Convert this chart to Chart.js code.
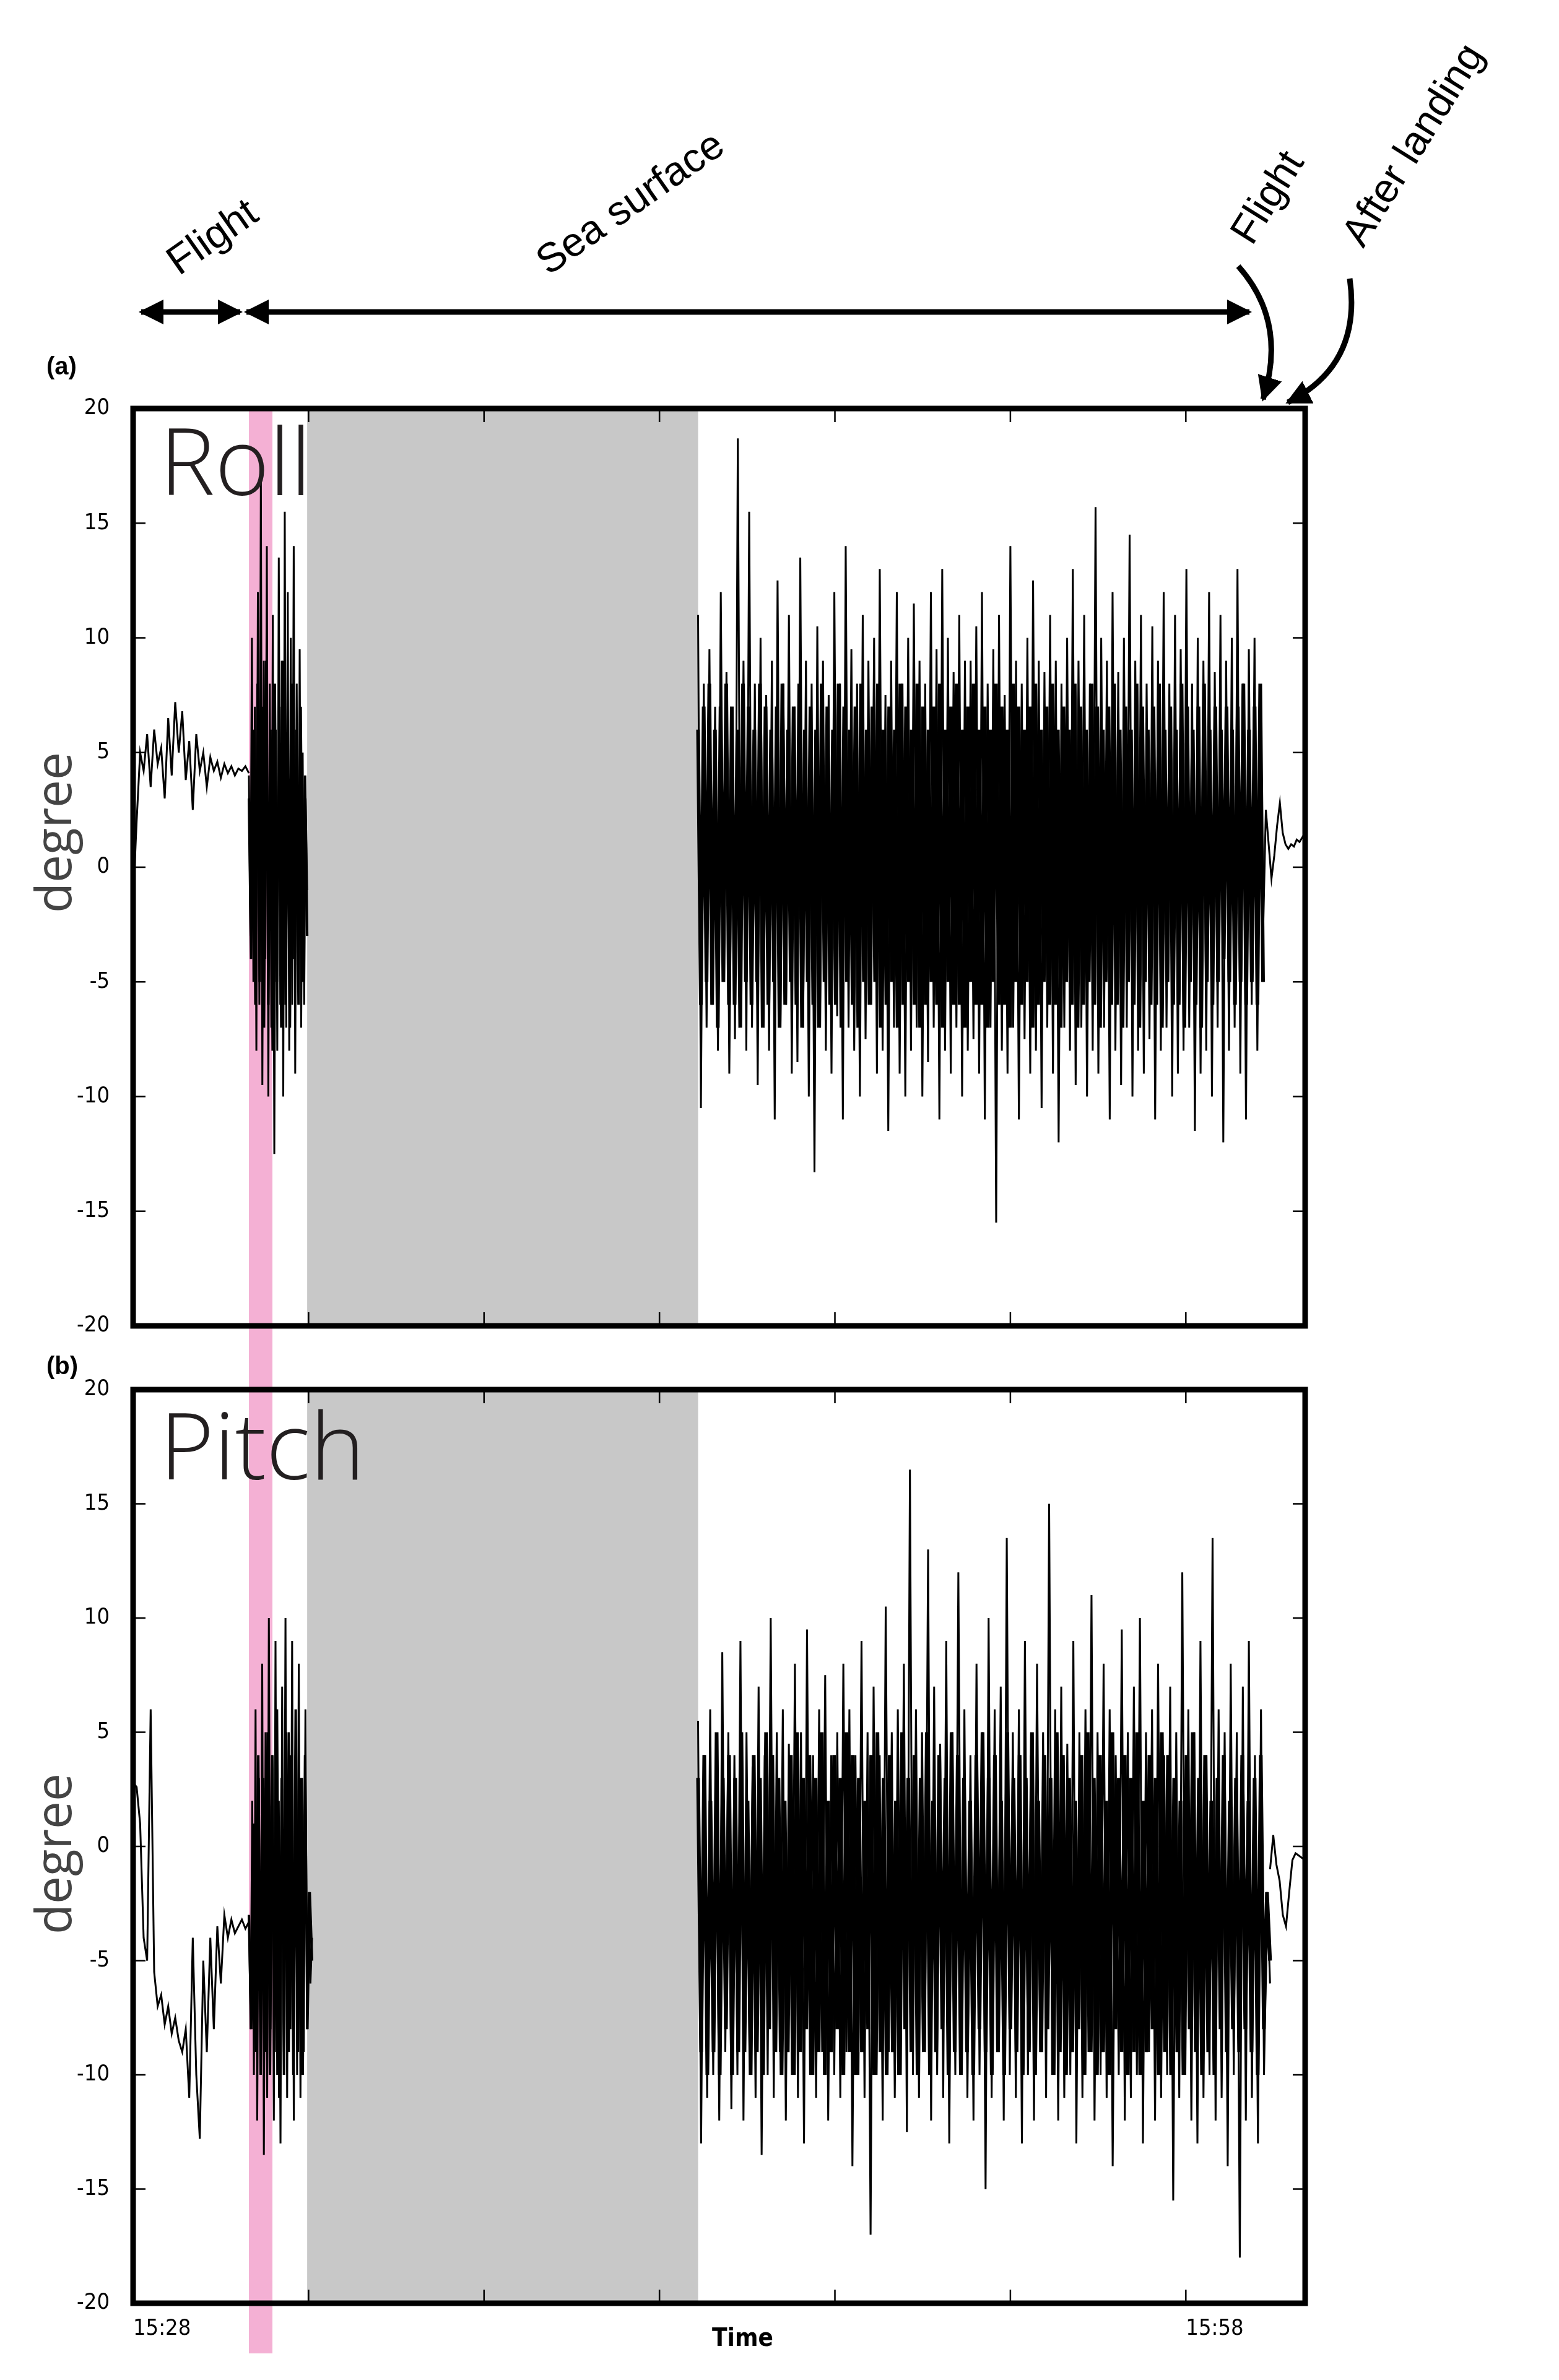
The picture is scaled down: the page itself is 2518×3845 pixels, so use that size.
<!DOCTYPE html>
<html><head><meta charset="utf-8">
<script src="https://cdn.jsdelivr.net/npm/chart.js@4.4.1/dist/chart.umd.min.js"></script>
<style>
html,body{margin:0;padding:0;background:#fff;}
#wrap{position:relative;width:2518px;height:3845px;overflow:hidden;}
canvas{position:absolute;left:0;}
svg{position:absolute;left:0;top:0;}
</style></head><body>
<div id="wrap">
<canvas id="c1" width="2518" height="1642" style="top:560px;width:2518px;height:1642px"></canvas>
<canvas id="c2" width="2518" height="1655" style="top:2190px;width:2518px;height:1655px"></canvas>
<svg width="2518" height="3845" viewBox="0 0 2518 3845">
<defs>
<marker id="ah" viewBox="0 0 10 10" refX="9" refY="5" markerWidth="4.5" markerHeight="4.5" orient="auto-start-reverse" markerUnits="strokeWidth"><path d="M0,0 L10,5 L0,10 z" fill="#000"/></marker>
</defs>
<line x1="228" y1="504" x2="388" y2="504" stroke="#000" stroke-width="9" marker-start="url(#ah)" marker-end="url(#ah)"/>
<line x1="398" y1="504" x2="2018" y2="504" stroke="#000" stroke-width="9" marker-start="url(#ah)" marker-end="url(#ah)"/>
<path d="M2000,430 Q2080,520 2040,645" fill="none" stroke="#000" stroke-width="9" marker-end="url(#ah)"/>
<path d="M2180,450 Q2200,590 2080,650" fill="none" stroke="#000" stroke-width="9" marker-end="url(#ah)"/>
<g font-family="Liberation Sans, Arial, sans-serif" font-size="66" fill="#000">
<text x="355" y="400" text-anchor="middle" transform="rotate(-35 355 400)">Flight</text>
<text x="1030" y="345" text-anchor="middle" transform="rotate(-35 1030 345)">Sea surface</text>
<text x="2065" y="330" text-anchor="middle" transform="rotate(-58 2065 330)">Flight</text>
<text x="2300" y="245" text-anchor="middle" transform="rotate(-58 2300 245)">After landing</text>
</g>
<g font-family="Liberation Sans, Arial, sans-serif" font-size="40" font-weight="bold">
<text x="75" y="605">(a)</text>
<text x="75" y="2220">(b)</text>
</g>
<g font-family="Open Sans, Noto Sans, sans-serif" font-size="80" fill="#444">
<text x="115" y="1345" text-anchor="middle" transform="rotate(-90 115 1345)">degree</text>
<text x="115" y="2995" text-anchor="middle" transform="rotate(-90 115 2995)">degree</text>
</g>
<g font-family="Open Sans, Noto Sans, sans-serif" font-size="150" font-weight="300" fill="#231f20">
<text x="258" y="800">Roll</text>
<text x="258" y="2390">Pitch</text>
</g>
<text x="1150" y="3790" font-family="Liberation Sans Narrow, DejaVu Sans Condensed, sans-serif" font-size="40" font-weight="bold">Time</text>
</svg>
</div>
<script>
// time in minutes after 15:28
const xTickLabels = {0:'15:28', 30:'15:58'};
const yTicks = [-20,-15,-10,-5,0,5,10,15,20];
const grayBand = [4.96, 16.1];
const pinkBand = [3.3, 3.97];

// Roll segments
const rollFlightT = [0, 3.3];
const rollFlight = [-1.5,2,5,4.2,5.8,3.5,6,4.5,5.2,3,6.5,4,7.2,5,6.8,3.8,5.5,2.5,5.8,4.2,5,3.5,4.8,4.2,4.6,3.9,4.5,4.1,4.4,4.0,4.3,4.2,4.4,4.1];
const rollLandT = [3.3, 4.96];
const rollLand = [4,-3,10,-5,7,-8,12,-6,17,-9.5,9,-4,14,-10,8,-7,11,-12.5,6,-8,13.5,-6,9,-10,15.5,-7,12,-8,10,-6,14,-9,8,-5,9.5,-7,5,-6,3,-1];
const rollLandCore = [3,-4,6,-6,8,-5,7,-7,9,-6,6,-8,8,-5,7,-7,9,-6,5,-7,8,-4,6,-6,7,-5,4,-3];
const rollSeaT = [16.1, 32.2];
const rollSea = [11,-10.5,8,-7,9.5,-6,7,-8,12,-5,8.5,-9,6,-7.5,18.7,-6,9,-8,15.5,-7,8,-9.5,10,-6.5,7.5,-8,9,-11,12.5,-7,8,-6,11,-9,7,-8.5,13.5,-7,9,-10,
8,-13.3,10.5,-7,9,-8,7.5,-9,12,-6.5,8,-11,14,-7,9.5,-8,8,-10,11,-7.5,9,-6,10,-9,13,-8,7.5,-11.5,9,-7,12,-9,8,-10,10,-8,11.5,-7,9,-10,
8,-8.5,12,-7,9.5,-11,13,-8,10,-9,8.5,-7,11,-10,9,-8,9,-7.5,10.5,-9,12,-11,8,-7,9.5,-15.5,11,-8,7.5,-9,14,-7,9,-11,8,-7.5,10,-9,12.5,-8,
9,-10.5,8.5,-7,11,-9,9,-12,8,-7,10,-8,13,-9.5,9,-7,11,-10,8,-8,15.7,-9,10,-7,9,-11,12,-8,8.5,-9.5,10,-7,14.5,-10,9,-8,11,-9,8,-7.5,
10.5,-11,9,-8,12,-7,8,-10,11,-9,9.5,-8,13,-7,8,-11.5,10,-9,9,-8,12,-10,8.5,-7,11,-12,9,-8,10,-7,13,-9,8,-11,9.5,-6,10,-8,7,-5];
const rollSeaCore = [6,-6,7,-5,8,-6,6,-7,7,-5,8,-6,7,-6,6,-7,8,-5,7,-6,6,-5,8,-7,7,-6,6,-5,7,-7,8,-6,6,-5,7,-6,8,-7,6,-5,
7,-6,6,-7,8,-5,7,-6,6,-6,8,-7,7,-5,6,-6,7,-7,8,-5,6,-6,7,-5,8,-7,6,-6,7,-5,6,-7,8,-6,7,-5,6,-6,8,-7,7,-6,6,-5,7,-6,8,-7,
6,-5,7,-6,8,-6,6,-7,7,-5,8,-6,6,-6,7,-7,6,-5,8,-6,7,-6,6,-7,8,-5,7,-6,6,-5,7,-7,8,-6,6,-5,7,-6,8,-6,6,-7,7,-5,6,-6,8,-7,7,-6,
6,-5,8,-6,7,-7,6,-5,7,-6,8,-6,6,-7,7,-5,6,-6,8,-7,7,-5,6,-6,7,-6,8,-7,6,-5,7,-6,6,-6,8,-7,7,-5,6,-6,7,-7,8,-5,6,-6,7,-5,6,-4,7,-5,6,-6,7,-5,8,-6,6,-5,7,-6,8,-5];
const rollAfterT = [32.2, 33.4];
const rollAfter = [-3,2.5,1,-0.5,0.5,1.8,2.8,1.5,1,0.8,1,0.9,1.2,1.1,1.3,1.5];

// Pitch segments
const pitchFlightT = [0, 3.3];
const pitchFlight = [2.8,2.6,1,-4,-5,6,-5.5,-7,-6.5,-7.8,-7,-8.2,-7.5,-8.5,-9,-8,-11,-4,-10,-12.8,-5,-9,-4,-8,-3.5,-6,-3,-4,-3.2,-3.8,-3.5,-3.2,-3.6,-3.3];
const pitchLandT = [3.3, 5.1];
const pitchLand = [-3,-8,2,-10,6,-12,3,-9,8,-13.5,5,-11,10,-8,4,-12,9,-10,2,-13,7,-9,10,-11,5,-8,9,-12,4,-10,8,-11,3,-9,6,-8,-2,-6,-4];
const pitchLandCore = [-3,-8,1,-9,4,-10,3,-9,5,-10,4,-9,6,-11,3,-10,5,-9,4,-10,6,-9,3,-10,4,-8,-2,-5];
const pitchSeaT = [16.1, 32.4];
const pitchSea = [5.5,-13,4,-11,6,-10,3,-12,8.5,-9,5,-11.5,4,-10,9,-12,5,-9,3.5,-11,7,-13.5,4,-10,10,-11,5,-9,6,-12,4.5,-10,8,-11,5,-13,9.5,-10,4,-11,
6,-9,7.5,-12,4,-10,5,-11,8,-9,6,-14,4,-10,9,-11,5,-17,7,-10,4,-12,10.5,-9,5,-11,6,-10,8,-12.5,16.5,-10,6,-11,5,-9,13,-12,7,-10,
4.5,-11,9,-13,5,-10,12,-9,6,-11,4,-12,8,-10,5,-15,10,-11,6,-9,7,-12,13.5,-10,5,-11,6,-13,9,-10,4,-12,8,-9,5,-11,15,-10,6,-12,
7,-11,4.5,-10,9,-13,5,-11,6,-9,11,-12,5,-10,8,-11,6,-14,4,-10,9.5,-12,5,-11,7,-10,10,-13,5,-9,6,-12,8,-11,4,-10,7,-15.5,5,-11,
12,-10,6,-12,5,-13,9,-11,4,-10,13.5,-12,6,-11,5,-14,8,-10,5,-18,7,-12,9,-11,4,-13,6,-10,-2,-6];
const pitchSeaCore = [3,-9,4,-10,2,-9,5,-10,3,-8,4,-10,3,-9,5,-9,2,-10,4,-9,3,-10,5,-8,4,-9,3,-10,2,-9,4,-10,5,-9,3,-8,4,-10,
3,-9,5,-10,2,-9,4,-8,3,-10,5,-9,4,-10,3,-9,2,-8,4,-10,5,-9,3,-10,4,-9,2,-10,5,-8,3,-9,4,-10,3,-9,5,-10,2,-9,4,-8,3,-10,5,-9,
4,-10,3,-9,2,-10,4,-8,5,-9,3,-10,4,-9,2,-10,5,-8,3,-9,4,-10,3,-9,5,-10,2,-9,4,-8,3,-10,5,-9,4,-10,3,-9,2,-8,4,-10,5,-9,3,-10,
4,-9,2,-10,5,-8,3,-9,4,-10,3,-9,5,-10,2,-9,4,-8,3,-10,5,-9,4,-10,3,-9,2,-10,4,-8,5,-9,3,-10,4,-9,2,-10,3,-8,4,-9,2,-8,3,-9,4,-8,2,-9,3,-10,4,-8,-2,-5];
const pitchAfterT = [32.4, 33.4];
const pitchAfter = [-1,0.5,-0.8,-1.5,-3,-3.5,-2,-0.6,-0.3,-0.4,-0.5,-0.6];

function seg(t, vals){
  const n = vals.length;
  return vals.map((v,i)=>({x: t[0] + (t[1]-t[0])*i/(n-1), y: v}));
}
function ds(t, vals, w){
  return {data: seg(t, vals), borderColor:'#000', borderWidth:w||3, pointRadius:0, tension:0, fill:false};
}

const tickFont = {family:'Liberation Sans Narrow, DejaVu Sans Condensed, sans-serif', size:36};

const framePlugin = {
  id:'frame',
  beforeDatasetsDraw(chart, args, opts){
    const {ctx, chartArea:a, scales:{x}} = chart;
    ctx.save();
    ctx.fillStyle = '#c8c8c8';
    const g0 = x.getPixelForValue(grayBand[0]), g1 = x.getPixelForValue(grayBand[1]);
    ctx.fillRect(g0, a.top, g1-g0, a.bottom-a.top);
    ctx.fillStyle = '#f4b0d4';
    const p0 = x.getPixelForValue(pinkBand[0]), p1 = x.getPixelForValue(pinkBand[1]);
    ctx.fillRect(p0, opts.pinkTop, p1-p0, opts.pinkBottom-opts.pinkTop);
    ctx.restore();
  },
  afterDraw(chart){
    const {ctx, chartArea:a, scales:{x,y}} = chart;
    ctx.save();
    ctx.strokeStyle = '#000';
    ctx.lineWidth = 2.5;
    yTicks.forEach(v=>{
      const py = y.getPixelForValue(v);
      ctx.beginPath(); ctx.moveTo(a.left, py); ctx.lineTo(a.left+20, py);
      ctx.moveTo(a.right, py); ctx.lineTo(a.right-20, py); ctx.stroke();
    });
    for(let v=5; v<=30; v+=5){
      const px = x.getPixelForValue(v);
      ctx.beginPath(); ctx.moveTo(px, a.bottom); ctx.lineTo(px, a.bottom-22);
      ctx.moveTo(px, a.top); ctx.lineTo(px, a.top+22); ctx.stroke();
    }
    ctx.lineWidth = 9;
    ctx.strokeRect(a.left, a.top, a.right-a.left, a.bottom-a.top);
    ctx.restore();
  }
};

function makeChart(id, sets, showX, pad, pink){
  return new Chart(document.getElementById(id), {
    type:'line',
    data:{datasets:sets},
    plugins:[framePlugin],
    options:{
      responsive:false, animation:false, devicePixelRatio:1,
      layout:{padding:pad},
      plugins:{legend:{display:false}, tooltip:{enabled:false}, frame:pink},
      scales:{
        x:{type:'linear', min:0, max:33.4, display:showX,
           grid:{display:false}, border:{display:false},
           ticks:{stepSize:5, align:'start', padding:12, color:'#000', font:tickFont,
                  callback:v=> xTickLabels[v] !== undefined ? xTickLabels[v] : ''},
           afterFit:s=>{s.height=60;}},
        y:{min:-20, max:20, grid:{display:false}, border:{display:false},
           ticks:{stepSize:5, padding:30, color:'#000', font:tickFont},
           afterFit:s=>{s.width=215;}}
      }
    }
  });
}

makeChart('c1', [ds(rollFlightT,rollFlight), ds(rollLandT,rollLand), ds(rollLandT,rollLandCore,4), ds(rollSeaT,rollSea), ds(rollSeaT,rollSeaCore,6), ds(rollAfterT,rollAfter)],
  false, {top:100, bottom:0, left:0, right:410}, {pinkTop:100, pinkBottom:1642});
makeChart('c2', [ds(pitchFlightT,pitchFlight), ds(pitchLandT,pitchLand), ds(pitchLandT,pitchLandCore,4), ds(pitchSeaT,pitchSea), ds(pitchSeaT,pitchSeaCore,6), ds(pitchAfterT,pitchAfter)],
  true, {top:55, bottom:64, left:0, right:410}, {pinkTop:0, pinkBottom:1612});
</script>
</body></html>
